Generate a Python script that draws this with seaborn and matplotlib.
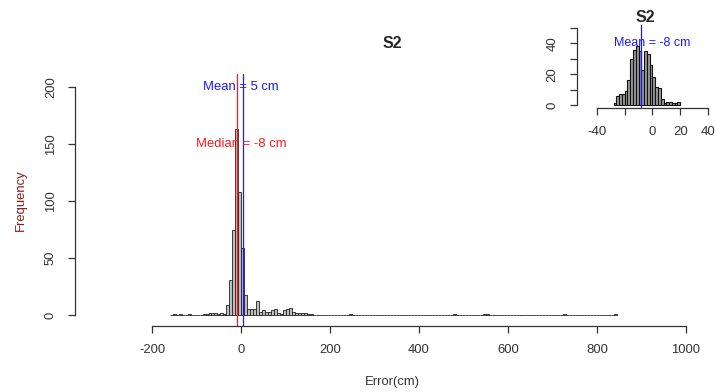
import numpy as np
import pandas as pd
import matplotlib
matplotlib.use("Agg")
import matplotlib.pyplot as plt
import seaborn as sns

# ---------------- data ----------------
# main histogram: representative error value of each non-empty bin (cm) and its count
main_err = [-150, -136, -116, -83, -76, -69, -63, -56, -49, -42, -36, -29, -23, -16, -9, -2,
            4, 11, 18, 24, 31, 38, 44, 51, 58, 64, 71, 78, 85, 91, 98, 105, 111, 118, 125,
            131, 138, 145, 152, 158, 245, 480, 547, 553, 725, 843]
main_cnt = [1, 1, 1, 1, 1, 2, 2, 2, 1, 2, 1, 9, 31, 75, 163, 108,
            59, 18, 5, 5, 5, 12, 3, 4, 3, 3, 4, 5, 2, 1, 4, 5, 6, 3, 2,
            2, 2, 2, 1, 1, 1, 1, 1, 1, 1, 1]
main_binwidth = 6.7
main_binrange = (-160, 845)

# inset histogram (2 cm bins from -28 to 20)
inset_err = [-27, -25, -23, -21, -19, -17, -15, -13, -11, -9, -7, -5,
             -3, -1, 1, 3, 5, 7, 9, 11, 13, 15, 17, 19]
inset_cnt = [1, 6, 7, 7, 9, 16, 30, 36, 38, 35, 23, 35,
             33, 26, 18, 12, 11, 4, 1, 2, 2, 1, 1, 2]

main_mean, main_median = 5, -8
inset_mean = -8

main_xticks = [-200, 0, 200, 400, 600, 800, 1000]
main_yticks = [0, 50, 100, 150, 200]
inset_xticks = [-40, -20, 0, 20, 40]
inset_xticklabels = ["-40", "", "0", "20", "40"]
inset_yticks_minor = [0, 10, 20, 30, 40, 50]
inset_yticks = [0, 20, 40]

title = "S2"
xlabel = "Error(cm)"
ylabel = "Frequency"

# ---------------- style ----------------
sns.set_style("white")
plt.rcParams["font.family"] = ["Liberation Sans", "DejaVu Sans"]
plt.rcParams["axes.unicode_minus"] = False
axis_col = "#333333"
text_col = "#333333"
blue = "#1a1aff"
red = "#ff1a1a"

fig = plt.figure(figsize=(7.15, 3.92), dpi=100)

# ---------------- main axes ----------------
ax = fig.add_axes([75 / 715, 1 - 326 / 392, 634 / 715, 252 / 392])
df_main = pd.DataFrame({"err": main_err, "n": main_cnt})
sns.histplot(data=df_main, x="err", weights="n", binwidth=main_binwidth,
             binrange=main_binrange, color="#bebebe", alpha=1,
             edgecolor="#222222", linewidth=0.6, ax=ax)
ax.set_xlim(-373, 1052)
ax.set_ylim(-9.6, 211.4)
ax.axvline(main_median, color=red, lw=0.9)
ax.axvline(main_mean, color=blue, lw=0.9)
ax.text(0, 200, f"Mean = {main_mean} cm", color=blue, fontsize=9.4,
        ha="center", va="center")
ax.text(0, 150, f"Median = {main_median} cm", color=red, fontsize=9.4,
        ha="center", va="center")

for s in ["top", "right"]:
    ax.spines[s].set_visible(False)
for s in ["left", "bottom"]:
    ax.spines[s].set_color(axis_col)
    ax.spines[s].set_linewidth(0.9)
ax.spines["bottom"].set_bounds(main_xticks[0], main_xticks[-1])
ax.spines["left"].set_bounds(main_yticks[0], main_yticks[-1])
ax.set_xticks(main_xticks)
ax.set_yticks(main_yticks)
ax.tick_params(axis="both", direction="out", length=5, width=0.9, color=axis_col,
               labelsize=9.4, labelcolor=text_col, bottom=True, left=True)
ax.tick_params(axis="x", pad=8)
ax.tick_params(axis="y", pad=8)
for lbl in ax.get_yticklabels():
    lbl.set_rotation(90)
    lbl.set_va("center")
ax.set_xlabel(xlabel, fontsize=9.4, color=text_col, labelpad=14)
ax.set_ylabel(ylabel, fontsize=9.4, color="#8b1a1a", labelpad=13)
ax.set_title(title, fontsize=11.5, fontweight="bold", pad=19)

# ---------------- inset axes ----------------
ins = fig.add_axes([576.7 / 715, 1 - 107.7 / 392, 136.3 / 715, 82.7 / 392])
df_ins = pd.DataFrame({"err": inset_err, "n": inset_cnt})
sns.histplot(data=df_ins, x="err", weights="n", binwidth=2, binrange=(-28, 20),
             color="#9a9a9a", alpha=1, edgecolor="#111111", linewidth=0.8, ax=ins)
ins.set_xlim(-54.5, 43.6)
ins.set_ylim(-1.75, 51.9)
ins.axvline(inset_mean, color=blue, lw=0.9)
ins.text(0, 40, f"Mean = {inset_mean} cm", color=blue, fontsize=9,
         ha="center", va="center")
ins.patch.set_alpha(0)
for s in ["top", "right"]:
    ins.spines[s].set_visible(False)
for s in ["left", "bottom"]:
    ins.spines[s].set_color(axis_col)
    ins.spines[s].set_linewidth(0.9)
ins.spines["bottom"].set_bounds(inset_xticks[0], inset_xticks[-1])
ins.spines["left"].set_bounds(inset_yticks_minor[0], inset_yticks_minor[-1])
ins.set_xticks(inset_xticks)
ins.set_xticklabels(inset_xticklabels)
ins.set_yticks(inset_yticks_minor, minor=True)
ins.set_yticks(inset_yticks)
ins.tick_params(axis="both", which="both", direction="out", length=5, width=0.9,
                color=axis_col, labelsize=9.5, labelcolor=text_col,
                bottom=True, left=True)
ins.tick_params(axis="x", pad=8)
ins.tick_params(axis="y", pad=8)
for lbl in ins.get_yticklabels():
    lbl.set_rotation(90)
    lbl.set_va("center")
ins.set_xlabel("")
ins.set_ylabel("")
ins.set_title(title, fontsize=11.5, fontweight="bold", pad=1)

fig.savefig("out.png", dpi=100)
